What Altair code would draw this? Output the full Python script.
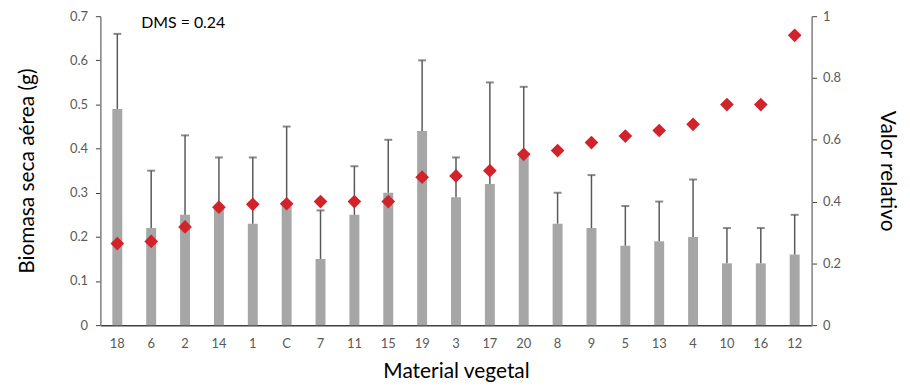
import altair as alt
import pandas as pd

categories = ["18", "6", "2", "14", "1", "C", "7", "11", "15", "19", "3",
              "17", "20", "8", "9", "5", "13", "4", "10", "16", "12"]
biomasa = [0.49, 0.22, 0.25, 0.27, 0.23, 0.28, 0.15, 0.25, 0.30, 0.44, 0.29,
           0.32, 0.39, 0.23, 0.22, 0.18, 0.19, 0.20, 0.14, 0.14, 0.16]
error_top = [0.66, 0.35, 0.43, 0.38, 0.38, 0.45, 0.26, 0.36, 0.42, 0.60, 0.38,
             0.55, 0.54, 0.30, 0.34, 0.27, 0.28, 0.33, 0.22, 0.22, 0.25]
valor_relativo = [0.264, 0.271, 0.318, 0.382, 0.391, 0.393, 0.40, 0.40, 0.40,
                  0.479, 0.483, 0.50, 0.553, 0.565, 0.591, 0.612, 0.63, 0.65,
                  0.714, 0.714, 0.938]

df = pd.DataFrame({
    "cat": categories,
    "bio": biomasa,
    "err": error_top,
    "rel": valor_relativo,
})

FONT = "Lato"
LABEL_COLOR = "#595959"

x_enc = alt.X("cat:N", sort=categories, title="Material vegetal",
              scale=alt.Scale(paddingInner=0, paddingOuter=0),
              axis=alt.Axis(labelAngle=0, ticks=False, labelPadding=13,
                            labelFontSize=13, labelColor=LABEL_COLOR,
                            labelFont=FONT, domainColor="#404040",
                            domainWidth=1.5, titleFont=FONT, titleFontSize=21,
                            titleFontWeight="normal", titleColor="#000000",
                            titlePadding=10))

left_scale = alt.Scale(domain=[0, 0.7], nice=False, zero=True)

base = alt.Chart(df)

bars = base.mark_bar(color="#A6A6A6", size=10).encode(
    x=x_enc,
    y=alt.Y("bio:Q", scale=left_scale, title="Biomasa seca aérea (g)",
            axis=alt.Axis(values=[0, 0.1, 0.2, 0.3, 0.4, 0.5, 0.6, 0.7],
                          format=".1~f", grid=False, tickSize=5,
                          tickColor="#404040", domainColor="#808080",
                          domainWidth=1.5, labelPadding=8, labelFontSize=13,
                          labelColor=LABEL_COLOR, labelFont=FONT,
                          titleFont=FONT, titleFontSize=21,
                          titleFontWeight="normal", titleColor="#000000",
                          titlePadding=32)),
)

rules = base.mark_rule(color="#595959", strokeWidth=1.5).encode(
    x=alt.X("cat:N", sort=categories),
    y=alt.Y("bio:Q", scale=left_scale),
    y2="err:Q",
)

caps = base.mark_tick(color="#595959", thickness=2, size=8).encode(
    x=alt.X("cat:N", sort=categories),
    y=alt.Y("err:Q", scale=left_scale),
)

dms = alt.Chart(pd.DataFrame({"cat": ["18"], "v": [0.685], "t": ["DMS = 0.24"]})).mark_text(
    align="left", baseline="middle", dx=24, fontSize=16, font=FONT, color="#000000"
).encode(
    x=alt.X("cat:N", sort=categories),
    y=alt.Y("v:Q", scale=left_scale),
    text="t:N",
)

left = alt.layer(bars, rules, caps, dms)

diamonds = base.mark_point(shape="diamond", filled=True, size=190,
                           color="#D2232A", opacity=1).encode(
    x=alt.X("cat:N", sort=categories),
    y=alt.Y("rel:Q", scale=alt.Scale(domain=[0, 1], nice=False),
            title="Valor relativo",
            axis=alt.Axis(orient="right", values=[0, 0.2, 0.4, 0.6, 0.8, 1],
                          format=".1~f", grid=False, tickSize=5,
                          tickColor="#404040", domainColor="#808080",
                          domainWidth=1.5, labelPadding=6, labelFontSize=13,
                          labelColor=LABEL_COLOR, labelFont=FONT,
                          titleFont=FONT, titleFontSize=21,
                          titleFontWeight="normal", titleColor="#000000",
                          titlePadding=36)),
)

chart = alt.layer(left, diamonds).resolve_scale(y="independent").properties(
    width=716, height=311,
    autosize="none",
    padding={"left": 93, "top": 7, "right": 91, "bottom": 61},
).configure_view(stroke=None)

chart.save("out.html", embed_options={"renderer": "svg", "actions": False})
